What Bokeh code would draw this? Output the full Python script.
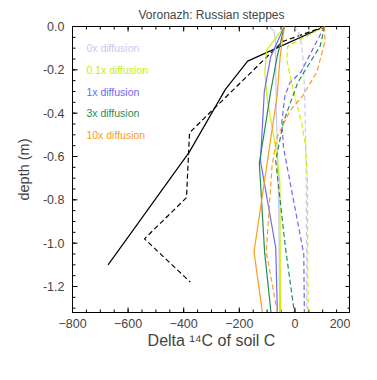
from bokeh.plotting import figure
from bokeh.models import LinearAxis, FixedTicker, Range1d, Label
from bokeh.embed import file_html
from bokeh.resources import INLINE

# ---- data (Delta 14C in permil, depth in m) ----
obs_solid_x = [107, -170, -250, -380, -672]
obs_solid_d = [0, -0.16, -0.29, -0.58, -1.10]
obs_dash_x = [107, -45, -379, -390, -541, -376]
obs_dash_d = [0, -0.07, -0.49, -0.79, -0.98, -1.18]

d0_solid_x = [-93, -76, -70, -68, -64, -58, -55]
d0_solid_d = [0, -0.02, -0.06, -0.30, -0.55, -0.85, -1.32]
d0_dash_x = [-7, 12, 22, 28, 35, 40, 43]
d0_dash_d = [0, -0.02, -0.07, -0.13, -0.30, -0.60, -1.32]

d01_solid_x = [-38, -102, -108, -100, -64, -54, -52]
d01_solid_d = [0, -0.11, -0.21, -0.33, -0.60, -0.72, -1.32]
d01_dash_x = [107, -25, -30, -3, 25, 38, 45, 47]
d01_dash_d = [0, -0.09, -0.15, -0.31, -0.45, -0.55, -0.70, -1.32]

d1_solid_x = [-38, -87, -110, -116, -124, -69, -63]
d1_solid_d = [0, -0.14, -0.30, -0.44, -0.62, -1.02, -1.32]
d1_dash_x = [107, 74, 22, -18, -36, -47, -41, 23, 32, 34]
d1_dash_d = [0, -0.08, -0.21, -0.26, -0.32, -0.44, -0.56, -0.99, -1.05, -1.32]

d3_solid_x = [-38, -64, -87, -104, -128, -109, -86]
d3_solid_d = [0, -0.14, -0.30, -0.44, -0.63, -1.04, -1.32]
d3_dash_x = [107, 91, 33, 10, -7, -41, -69, -34, -2]
d3_dash_d = [0, -0.09, -0.21, -0.26, -0.32, -0.44, -0.62, -1.02, -1.32]

d10_solid_x = [-38, -53, -64, -78, -147, -117]
d10_solid_d = [0, -0.14, -0.32, -0.44, -1.04, -1.32]
d10_dash_x = [107, 108, 79, 56, 28, -18, -64, -82, -92, -103, -63]
d10_dash_d = [0, -0.07, -0.21, -0.26, -0.32, -0.39, -0.51, -0.64, -0.83, -1.04, -1.32]

legend_labels = ["0x diffusion", "0.1x diffusion", "1x diffusion", "3x diffusion", "10x diffusion"]
legend_colors = ["#c8c8f4", "#ccee00", "#6a6af5", "#1f8c55", "#ff9a1a"]
legend_x = -750
legend_d = [-0.10, -0.20, -0.30, -0.40, -0.50]

x_ticks = [-800, -600, -400, -200, 0, 200]
x_minor = list(range(-800, 201, 50))
y_ticks = [0.0, -0.2, -0.4, -0.6, -0.8, -1.0, -1.2]
y_minor = [round(-0.05 * i, 2) for i in range(0, 27)]
x_lo, x_hi = -800, 200
y_lo, y_hi = -1.32, 0.0

FONT = "Liberation Sans"
FW, FH = 278, 286

p = figure(output_backend="svg", toolbar_location=None,
           frame_width=FW, frame_height=FH,
           min_border_left=72, min_border_top=25, min_border_right=0, min_border_bottom=40,
           x_range=Range1d(x_lo, x_hi), y_range=Range1d(y_lo, y_hi),
           title="Voronazh: Russian steppes", x_axis_type=None, y_axis_type=None)

p.title.align = "center"
p.title.text_font = FONT
p.title.text_font_size = "12px"
p.title.text_font_style = "normal"
p.title.standoff = 10
p.outline_line_color = "black"
p.outline_line_width = 1
p.xgrid.visible = False
p.ygrid.visible = False
p.background_fill_color = "white"
p.border_fill_color = "white"


def style_axis(ax):
    ax.major_tick_in = 0
    ax.major_tick_out = 0
    ax.minor_tick_in = 0
    ax.minor_tick_out = 0
    ax.axis_line_color = "black"
    ax.major_label_text_font = FONT
    ax.major_label_text_font_size = "12.5px"
    ax.major_label_standoff = 6
    ax.axis_label_text_font = FONT
    ax.axis_label_text_font_style = "normal"


xt = FixedTicker(ticks=x_ticks, minor_ticks=x_minor)
yt = FixedTicker(ticks=y_ticks, minor_ticks=y_minor)

xb = LinearAxis(ticker=xt, axis_label="Delta \u00b9\u2074C of soil C")
style_axis(xb)
xb.axis_label_text_font_size = "16px"
xb.axis_label_standoff = 1
p.add_layout(xb, "below")

yl = LinearAxis(ticker=yt, axis_label="depth (m)")
style_axis(yl)
yl.major_label_standoff = 8
yl.axis_label_text_font_size = "14.5px"
yl.axis_label_standoff = 8
yl.major_label_overrides = {v: f"{v:.1f}" for v in y_ticks}
p.add_layout(yl, "left")

# inward tick marks on all four sides, lengths converted from pixels to data units
dx_per_px = (x_hi - x_lo) / FW
dy_per_px = (y_hi - y_lo) / FH
TICK_COL = "black"
for xs, L in ((x_ticks, 5), (x_minor, 3)):
    n = len(xs)
    p.segment(x0=xs, y0=[y_lo] * n, x1=xs, y1=[y_lo + L * dy_per_px] * n,
              line_color=TICK_COL, line_width=1)
    p.segment(x0=xs, y0=[y_hi] * n, x1=xs, y1=[y_hi - L * dy_per_px] * n,
              line_color=TICK_COL, line_width=1)
for ys, L in ((y_ticks, 5), (y_minor, 3)):
    n = len(ys)
    p.segment(x0=[x_lo] * n, y0=ys, x1=[x_lo + L * dx_per_px] * n, y1=ys,
              line_color=TICK_COL, line_width=1)
    p.segment(x0=[x_hi] * n, y0=ys, x1=[x_hi - L * dx_per_px] * n, y1=ys,
              line_color=TICK_COL, line_width=1)

LW = 1.2
DASH = "5 3"

p.line(obs_solid_x, obs_solid_d, line_color="black", line_width=LW)
p.line(obs_dash_x, obs_dash_d, line_color="black", line_width=LW, line_dash=DASH)

series = [
    (d0_solid_x, d0_solid_d, d0_dash_x, d0_dash_d),
    (d01_solid_x, d01_solid_d, d01_dash_x, d01_dash_d),
    (d1_solid_x, d1_solid_d, d1_dash_x, d1_dash_d),
    (d3_solid_x, d3_solid_d, d3_dash_x, d3_dash_d),
    (d10_solid_x, d10_solid_d, d10_dash_x, d10_dash_d),
]
for (sx, sd, dx, dd), col in zip(series, legend_colors):
    p.line(sx, sd, line_color=col, line_width=LW)
    p.line(dx, dd, line_color=col, line_width=LW, line_dash=DASH)

for lab, col, yd in zip(legend_labels, legend_colors, legend_d):
    p.add_layout(Label(x=legend_x, y=yd, text=lab, text_color=col,
                       text_font=FONT, text_font_size="10.5px",
                       text_baseline="middle", text_align="left"))

open("out.html", "w").write(file_html(p, INLINE))
